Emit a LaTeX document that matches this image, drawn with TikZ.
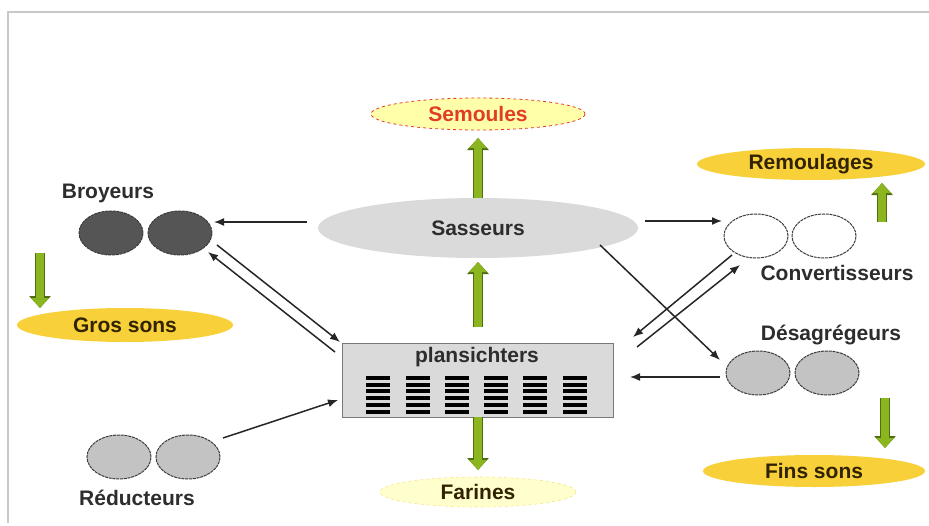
\documentclass[tikz,border=0pt]{standalone}
\usepackage{fontspec}
\setmainfont{Liberation Sans}
\usetikzlibrary{arrows.meta,shapes.geometric}

\definecolor{txtgray}{RGB}{45,45,45}
\definecolor{golden}{RGB}{247,208,58}
\definecolor{goldtxt}{RGB}{50,35,0}
\definecolor{paleyellow}{RGB}{255,255,170}
\definecolor{creamyellow}{RGB}{255,255,205}
\definecolor{redline}{RGB}{225,60,40}
\definecolor{sieve}{RGB}{218,218,218}
\definecolor{sieveedge}{RGB}{120,120,120}
\definecolor{darkroll}{RGB}{85,85,85}
\definecolor{lightroll}{RGB}{195,195,195}
\definecolor{rolledge}{RGB}{60,60,60}
\definecolor{leaf}{RGB}{140,182,32}
\definecolor{leafedge}{RGB}{80,110,15}
\definecolor{framegray}{RGB}{200,200,200}

\begin{document}
\begin{tikzpicture}[x=1pt,y=-1pt,
  lbl/.style={font=\fontsize{21}{24}\selectfont\bfseries, text=txtgray, inner sep=0pt},
  roll/.style={ellipse, minimum width=64pt, minimum height=44pt, inner sep=0pt,
    draw=rolledge, line width=1pt, dash pattern=on 3pt off 0.8pt},
  product/.style={ellipse, inner sep=0pt, fill=golden,
    font=\fontsize{21}{24}\selectfont\bfseries, text=goldtxt},
  conn/.style={draw=black!85, line width=1.5pt, -{Latex[length=10pt,width=8pt]}},
  fat/.style={draw=leaf, line width=8pt, -{Triangle[length=10pt,width=17pt]},
    preaction={draw=leafedge, line width=10.5pt, -{Triangle[length=12pt,width=21pt]}}}
]
\useasboundingbox (0,0) rectangle (929,525);
\fill[white] (0,0) rectangle (929,525);
\draw[framegray, line width=2pt] (8,523) -- (8,12) -- (929,12);

% central sifting stage
\node[ellipse, fill=sieve, minimum width=320pt, minimum height=60pt, inner sep=0pt,
  font=\fontsize{21}{24}\selectfont\bfseries, text=txtgray] (sas) at (478,228) {Sasseurs};
\node[draw=sieveedge, fill=sieve, line width=1pt, minimum width=271pt, minimum height=74pt,
  inner sep=0pt] (plan) at (478,380) {};
\node[lbl] (plantitle) at (477,357) {plansichters};
\foreach \xs in {366,406,445,484,523,563}
  \foreach \k in {0,...,5}
    \fill[black] (\xs,376+6.7*\k) rectangle ++(24,4);

% products
\node[product, fill=paleyellow, draw=redline, dashed, line width=0.8pt,
  minimum width=214pt, minimum height=32pt, text=redline] (sem) at (478,114) {Semoules};
\node[product, fill=creamyellow, draw=golden!60, dashed, line width=0.6pt,
  minimum width=196pt, minimum height=30pt] (far) at (478,492) {Farines};
\node[product, minimum width=216pt, minimum height=34pt] (gros) at (125,325) {Gros sons};
\node[product, minimum width=228pt, minimum height=32pt] (remo) at (811,164) {Remoulages};
\node[product, minimum width=222pt, minimum height=32pt] (fins) at (814,471) {Fins sons};

% roller mills
\node[roll, fill=darkroll] (broy1) at (111,233) {};
\node[roll, fill=darkroll] (broy2) at (180,233) {};
\node[lbl] (broylbl) at (108,193) {Broyeurs};

\node[roll, fill=lightroll] (red1) at (119,457) {};
\node[roll, fill=lightroll] (red2) at (188,457) {};
\node[lbl] (redlbl) at (137,498) {Réducteurs};

\node[roll, fill=white] (conv1) at (756,236) {};
\node[roll, fill=white] (conv2) at (824,236) {};
\node[lbl] (convlbl) at (837,273) {Convertisseurs};

\node[roll, fill=lightroll] (des1) at (758,373) {};
\node[roll, fill=lightroll] (des2) at (827,373) {};
\node[lbl] (deslbl) at (831,335) {Désagrégeurs};

% product flows
\draw[fat] ([shift={(0,-30)}]sas.center) -- ([shift={(0,24)}]sem.center);
\draw[fat] ([shift={(0,-53)}]plan.center) -- ([shift={(0,34)}]sas.center);
\draw[fat] ([shift={(0,37)}]plan.center) -- ([shift={(0,-22)}]far.center);
\coordinate (grostop) at (40,253);
\draw[fat] (grostop) -- ([shift={(-85,-17)}]gros.center);
\coordinate (remobase) at (882,222);
\draw[fat] (remobase) -- ([shift={(71,19)}]remo.center);
\coordinate (finstop) at (885,398);
\draw[fat] (finstop) -- ([shift={(71,-23)}]fins.center);

% material circuits
\draw[conn] ([shift={(-171,-6)}]sas.center) -- ([shift={(34,-11)}]broy2.center);
\draw[conn] ([shift={(37,12)}]broy2.center) -- ([shift={(-138,-38)}]plan.center);
\draw[conn] ([shift={(-143,-28)}]plan.center) -- ([shift={(28,19)}]broy2.center);
\draw[conn] ([shift={(35,-19)}]red2.center) -- ([shift={(-140,20)}]plan.center);
\draw[conn] ([shift={(167,-7)}]sas.center) -- ([shift={(-34,-15)}]conv1.center);
\draw[conn] ([shift={(122,17)}]sas.center) -- ([shift={(-38,-13)}]des1.center);
\draw[conn] ([shift={(-24,19)}]conv1.center) -- ([shift={(155,-43)}]plan.center);
\draw[conn] ([shift={(159,-33)}]plan.center) -- ([shift={(-16,29)}]conv1.center);
\draw[conn] ([shift={(-38,4)}]des1.center) -- ([shift={(152,-3)}]plan.center);
\end{tikzpicture}
\end{document}
